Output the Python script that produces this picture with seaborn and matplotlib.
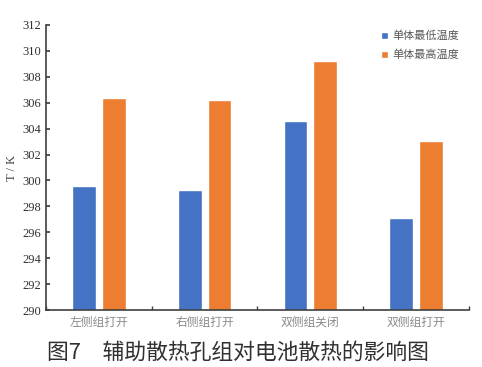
import matplotlib

matplotlib.use("Agg")
import matplotlib.pyplot as plt
import pandas as pd
import seaborn as sns
from matplotlib.ticker import FixedLocator

categories = ["左侧组打开", "右侧组打开", "双侧组关闭", "双侧组打开"]
series_names = ["单体最低温度", "单体最高温度"]
t_min = [299.6, 299.3, 304.6, 297.1]
t_max = [306.4, 306.2, 309.25, 303.05]
colors = ["#4472C4", "#ED7D31"]

df = pd.DataFrame({
    "case": categories * 2,
    "series": [series_names[0]] * 4 + [series_names[1]] * 4,
    "T": t_min + t_max,
})

sns.set_theme(style="white")
plt.rcParams["font.family"] = ["Liberation Serif", "Noto Sans CJK SC"]

fig = plt.figure(figsize=(4.82, 3.67), dpi=100)
ax = fig.add_axes([0.0954, 0.155, 0.8776, 0.777])

sns.barplot(data=df, x="case", y="T", hue="series", order=categories,
            hue_order=series_names, palette=colors, width=0.56, gap=0.2,
            saturation=1, ax=ax)

ax.set_ylim(290, 312)
ax.set_yticks(range(290, 313, 2))
ax.set_xlim(-0.5, 3.5)
ax.set_xlabel("")
ax.set_ylabel("T / K", fontsize=9, color="#404040", labelpad=3)
for side in ("top", "right"):
    ax.spines[side].set_visible(False)
for side in ("left", "bottom"):
    ax.spines[side].set_color("#404040")
    ax.spines[side].set_linewidth(1.2)

ax.tick_params(axis="y", direction="in", length=3, labelsize=9,
               labelcolor="#303030", color="#404040", left=True)
ax.tick_params(axis="x", which="major", length=0, labelsize=8.5,
               labelcolor="#8a8a8a", pad=4)
ax.xaxis.set_minor_locator(FixedLocator([-0.5, 0.5, 1.5, 2.5, 3.5]))
ax.tick_params(axis="x", which="minor", direction="in", length=3,
               color="#404040", bottom=True)
for lab in ax.get_xticklabels():
    lab.set_family(["Noto Sans CJK SC"])

leg = ax.legend(loc="upper right", bbox_to_anchor=(1.0, 1.015), frameon=False,
                fontsize=8, handlelength=0.6, handleheight=0.6,
                handletextpad=0.4, labelspacing=0.75)
for txt in leg.get_texts():
    txt.set_color("#595959")
    txt.set_family(["Noto Sans CJK SC"])

fig.text(0.097, 0.022, "图7\u3000辅助散热孔组对电池散热的影响图",
         fontsize=15.7, color="#303030", family=["Noto Sans CJK SC"])

fig.savefig("out.png", dpi=100)
